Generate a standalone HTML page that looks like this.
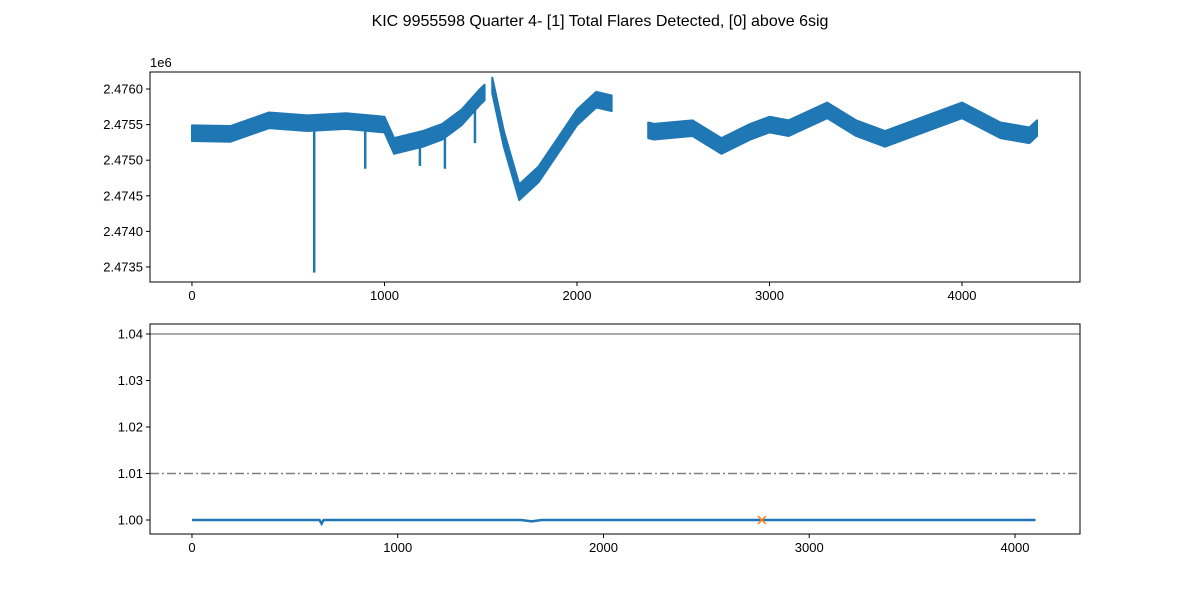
<!DOCTYPE html>
<html><head><meta charset="utf-8"><style>
body{margin:0;background:#fff}
svg{font-family:"Liberation Sans","DejaVu Sans",sans-serif}
</style></head><body>
<svg id="chart" width="1200" height="600">
<text x="600" y="26" text-anchor="middle" font-size="16">KIC 9955598 Quarter 4- [1] Total Flares Detected, [0] above 6sig</text>
<g id="top"></g>
<g id="bot"></g>
</svg>
<script>
// Top panel: raw flux (band center and half-width), segments separated by gaps
const seg1T = [0,200,400,600,800,1000,1050,1200,1300,1400,1500,1520];
const seg1V = [2475380,2475370,2475560,2475520,2475550,2475500,2475200,2475300,2475400,2475600,2475900,2475950];
const seg2T = [1560,1620,1700,1800,1900,2000,2100,2180];
const seg2V = [2476050,2475300,2474550,2474800,2475200,2475600,2475850,2475800];
const seg3T = [2370,2400,2600,2750,2900,3000,3100,3300,3450,3600,3800,4000,4200,4350,4390];
const seg3V = [2475420,2475400,2475450,2475200,2475400,2475500,2475450,2475700,2475450,2475300,2475500,2475700,2475420,2475350,2475450];
const bandHalf = 110;
const dipT = [635,900,1184,1314,1470];
const dipTop = [2475450,2475450,2475300,2475400,2475750];
const dipV = [2473420,2474880,2474920,2474880,2475240];
const topXTicks = [0,1000,2000,3000,4000];
const topYTicks = [2473500,2474000,2474500,2475000,2475500,2476000];
const topYLabels = ["2.4735","2.4740","2.4745","2.4750","2.4755","2.4760"];
// Bottom panel: normalized flux
const botT = [0,620,630,640,1600,1650,1700,4100];
const botV = [1.0,1.0,0.9992,1.0,1.0,0.9997,1.0,1.0];
const flareT = [2770];
const flareV = [1.0];
const solidLevel = 1.04;
const dashLevel = 1.01;
const botXTicks = [0,1000,2000,3000,4000];
const botYTicks = [1.00,1.01,1.02,1.03,1.04];
const botYLabels = ["1.00","1.01","1.02","1.03","1.04"];

const NS="http://www.w3.org/2000/svg";
function mk(parent,tag,attrs){const e=document.createElementNS(NS,tag);for(const k in attrs)e.setAttribute(k,attrs[k]);parent.appendChild(e);return e;}
function axes(g,L,T,R,B,x0,x1,y0,y1,xt,yt,yl,pfx){
  const sx=v=>L+(v-x0)/(x1-x0)*(R-L), sy=v=>B-(v-y0)/(y1-y0)*(B-T);
  xt.forEach(v=>{const x=sx(v);
    const l=mk(g,'line',{x1:x,x2:x,y1:B,y2:B+4,stroke:'#000'});
    
    
    const t=mk(g,'text',{x:x,y:B+18,'text-anchor':'middle','font-size':13});t.textContent=v;
    
    });
  yt.forEach((v,i)=>{const y=sy(v);
    const l=mk(g,'line',{x1:L-4,x2:L,y1:y,y2:y,stroke:'#000'});
    
    
    const t=mk(g,'text',{x:L-7,y:y+4.5,'text-anchor':'end','font-size':13});t.textContent=yl[i];
    
    });
  return [sx,sy];
}
// Top
const gt=document.getElementById('top');
const [tx,ty]=axes(gt,150,72,1080,282,-218,4613,2473289,2476239,topXTicks,topYTicks,topYLabels,'top');
[[seg1T,seg1V],[seg2T,seg2V],[seg3T,seg3V]].forEach((s,si)=>{
  const up=s[0].map((t,i)=>tx(t)+','+ty(s[1][i]+bandHalf));
  const lo=s[0].map((t,i)=>tx(t)+','+ty(s[1][i]-bandHalf)).reverse();
  const p=mk(gt,'polygon',{points:up.concat(lo).join(' '),fill:'#1f77b4',stroke:'#1f77b4','stroke-width':2,'stroke-linejoin':'round'});
  
  
});
dipT.forEach((t,i)=>{
  const l=mk(gt,'line',{x1:tx(t),x2:tx(t),y1:ty(dipTop[i]),y2:ty(dipV[i]),stroke:'#1f77b4','stroke-width':2.5});
  
  
});
const m=mk(gt,'text',{x:150,y:67,'font-size':13});m.textContent='1e6';


const f1=mk(gt,'rect',{x:150,y:72,width:930,height:210,fill:'none',stroke:'#000'});


// Bottom
const gb=document.getElementById('bot');
const [bx,by]=axes(gb,150,324,1080,534,-204,4316,0.99699,1.04215,botXTicks,botYTicks,botYLabels,'bottom');
const sl=mk(gb,'line',{x1:150,x2:1080,y1:by(solidLevel),y2:by(solidLevel),stroke:'#555','stroke-width':1});


const dl=mk(gb,'line',{x1:150,x2:1080,y1:by(dashLevel),y2:by(dashLevel),stroke:'#808080','stroke-width':1.5,'stroke-dasharray':'9,3,2,3'});


const bl=mk(gb,'polyline',{points:botT.map((t,i)=>bx(t)+','+by(botV[i])).join(' '),fill:'none',stroke:'#1f77b4','stroke-width':2.5});


flareT.forEach((t,i)=>{const x=bx(t),y=by(flareV[i]);
  const p=mk(gb,'path',{d:`M${x-4},${y-4}L${x+4},${y+4}M${x-4},${y+4}L${x+4},${y-4}`,stroke:'#ff7f0e','stroke-width':1.5});
  
  });
const f2=mk(gb,'rect',{x:150,y:324,width:930,height:210,fill:'none',stroke:'#000'});


</script>
</body></html>
